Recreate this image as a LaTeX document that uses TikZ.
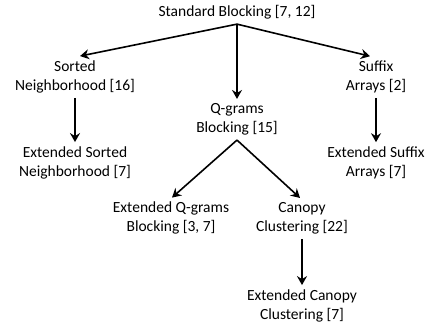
\documentclass[tikz,border=0pt]{standalone}
\usepackage{fontspec}
\setmainfont{Carlito}
\usetikzlibrary{arrows.meta}
\begin{document}
\begin{tikzpicture}[x=1pt,y=-1pt,
  lbl/.style={font=\fontsize{15.5}{19}\selectfont, align=center, inner sep=0pt},
  arr/.style={-{Stealth[length=9pt,width=10pt,inset=3pt]}, line width=1.6pt}]
\useasboundingbox (0,0) rectangle (430,325);
\node[lbl] (std) at (237,12) {Standard Blocking [7, 12]};
\node[lbl] (sn) at (75,76.5) {Sorted\\Neighborhood [16]};
\node[lbl] (qg) at (237,119) {Q-grams\\Blocking [15]};
\node[lbl] (sa) at (376,76.5) {Suffix\\Arrays [2]};
\node[lbl] (esn) at (75,162.5) {Extended Sorted\\Neighborhood [7]};
\node[lbl] (esa) at (376,162.5) {Extended Suffix\\Arrays [7]};
\node[lbl] (eqg) at (171,218) {Extended Q-grams\\Blocking [3, 7]};
\node[lbl] (cc) at (302,218) {Canopy\\Clustering [22]};
\node[lbl] (ecc) at (302,305.5) {Extended Canopy\\Clustering [7]};
\draw[arr] ([yshift=-5pt]std.south) -- ([xshift=5pt,yshift=4pt]sn.north);
\draw[arr] ([yshift=-5pt]std.south) -- ([yshift=4pt]qg.north);
\draw[arr] ([yshift=-5pt]std.south) -- ([xshift=-6pt,yshift=4pt]sa.north);
\draw[arr] ([yshift=-5pt]sn.south) -- ([yshift=4pt]esn.north);
\draw[arr] ([yshift=-5pt]sa.south) -- ([yshift=4pt]esa.north);
\draw[arr] ([yshift=-5pt]qg.south) -- ([xshift=1pt,yshift=4pt]eqg.north);
\draw[arr] ([yshift=-5pt]qg.south) -- ([xshift=-2pt,yshift=4pt]cc.north);
\draw[arr] ([yshift=-5pt]cc.south) -- ([yshift=4pt]ecc.north);
\end{tikzpicture}
\end{document}
